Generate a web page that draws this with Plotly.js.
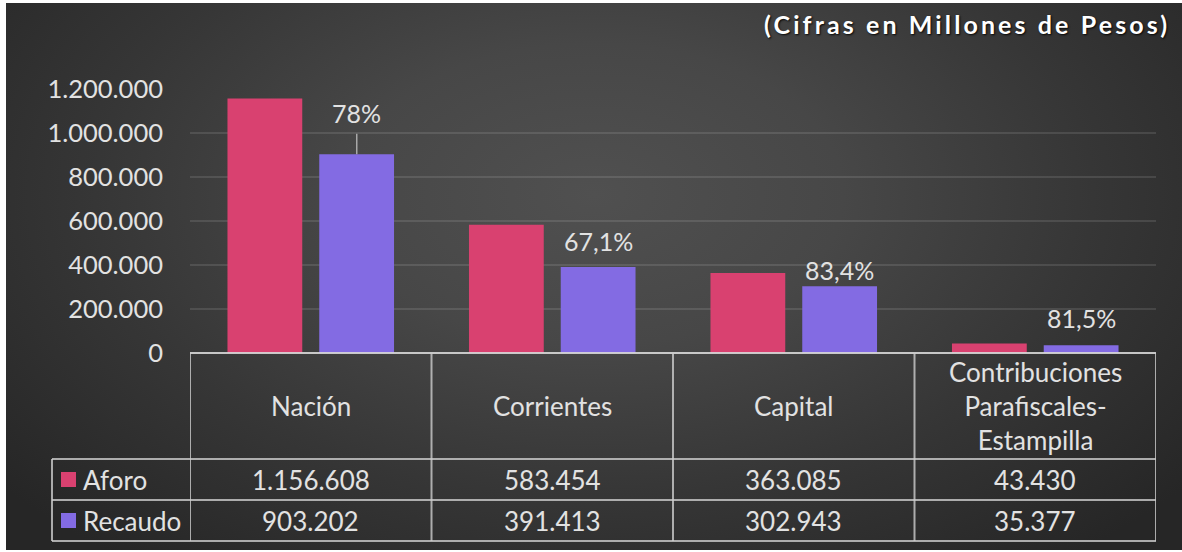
<!DOCTYPE html>
<html><head><meta charset="utf-8">
<script src="https://cdn.plot.ly/plotly-3.0.1.min.js"></script>
<style>
html,body{margin:0;padding:0;background:#fff;}
#wrap{position:relative;width:1182px;height:552px;overflow:hidden;}
#bg{position:absolute;left:6px;top:3px;right:0;bottom:2px;background:radial-gradient(ellipse farthest-corner at 50% 35%, #505050 0%, #474747 30%, #363636 60%, #262626 92%);}
#chart{position:absolute;left:0;top:0;width:1182px;height:552px;}
.annotation[data-index="0"] text{letter-spacing:3.1px;}
</style></head>
<body>
<div id="wrap"><div id="bg"></div><div id="chart"></div></div>
<script>
// ---- data ----
const categories = ['Nación', 'Corrientes', 'Capital', 'Contribuciones<br>Parafiscales-<br>Estampilla'];
const seriesNames = ['Aforo', 'Recaudo'];
const aforo = [1156608, 583454, 363085, 43430];
const recaudo = [903202, 391413, 302943, 35377];
const recaudoPctLabels = ['78%', '67,1%', '83,4%', '81,5%'];
const yTickVals = [0, 200000, 400000, 600000, 800000, 1000000, 1200000];
const subtitle = '(Cifras en Millones de Pesos)';

// ---- styling / layout ----
const colors = ['#D94170', '#836BE3'];
const txtColor = '#E2E2E2';
const lineColor = 'rgba(205,205,205,0.8)';
const FONT = 'Lato, "Open Sans", sans-serif';
const L = 190, R = 26, T = 89, B = 199, W = 1182, H = 552;
const plotW = W - L - R, plotH = H - T - B;
const py = p => (H - B - p) / plotH;      // pixel y -> paper y
const px = p => (p - L) / plotW;          // pixel x -> paper x
const pctShift = [0, 26, 16, 27];
const TBL = 26;

function fmt(n) { return String(n).replace(/\B(?=(\d{3})+(?!\d))/g, '.'); }

const series = [aforo, recaudo];
const traces = series.map((vals, i) => ({
  type: 'bar', name: seriesNames[i], x: categories, y: vals,
  marker: {color: colors[i]}, hoverinfo: 'skip', showlegend: false
}));

const annotations = [];
annotations.push({
  xref: 'paper', yref: 'paper', x: px(967), y: py(24), xanchor: 'center', yanchor: 'middle',
  text: subtitle, showarrow: false,
  font: {family: FONT, size: 25, weight: 700, color: '#FFFFFF', shadow: '1px 1px 2px rgba(0,0,0,0.9)'}
});

// percent labels above Recaudo bars
recaudoPctLabels.forEach((lab, i) => {
  const base = {xref: 'x', yref: 'y', x: categories[i], y: recaudo[i], xshift: 46, text: lab,
    font: {family: FONT, size: 25, color: txtColor}};
  if (i === 0) {
    annotations.push(Object.assign(base, {showarrow: true, arrowhead: 0, arrowwidth: 1.5,
      arrowcolor: '#A8A8A8', ax: 0, ay: -41, startstandoff: 4}));
  } else {
    annotations.push(Object.assign(base, {showarrow: false, yanchor: 'middle', yshift: pctShift[i]}));
  }
});

// table: header row and value rows
const rowHeader = py(406), row1 = py(479.5), row2 = py(520.5);
categories.forEach((c, i) => {
  annotations.push({xref: 'x', yref: 'paper', x: c, y: rowHeader, text: c, showarrow: false,
    yanchor: 'middle', font: {family: FONT, size: TBL, color: txtColor}});
  annotations.push({xref: 'x', yref: 'paper', x: c, y: row1, text: fmt(aforo[i]), showarrow: false,
    yanchor: 'middle', font: {family: FONT, size: TBL, color: txtColor}});
  annotations.push({xref: 'x', yref: 'paper', x: c, y: row2, text: fmt(recaudo[i]), showarrow: false,
    yanchor: 'middle', font: {family: FONT, size: TBL, color: txtColor}});
});
// legend labels in table
[row1, row2].forEach((ry, i) => {
  annotations.push({xref: 'paper', yref: 'paper', x: px(81), y: ry, xanchor: 'left', yanchor: 'middle',
    text: seriesNames[i], showarrow: false, font: {family: FONT, size: TBL, color: txtColor}});
});

const shapes = [];
const lineS = {color: lineColor, width: 2};
// top border (zero line)
shapes.push({type: 'line', xref: 'x', yref: 'paper', x0: -0.5, x1: categories.length - 0.5, y0: 0, y1: 0,
  line: {color: 'rgba(215,215,215,0.9)', width: 2}});
// vertical lines
for (let k = 0; k <= categories.length; k++) {
  shapes.push({type: 'line', xref: 'x', yref: 'paper', x0: k - 0.5, x1: k - 0.5, y0: 0, y1: py(541), line: lineS});
}
// horizontal lines
[459, 500, 541].forEach(p => {
  shapes.push({type: 'line', xref: 'paper', yref: 'paper', x0: px(52), x1: 1, y0: py(p), y1: py(p), line: lineS});
});
shapes.push({type: 'line', xref: 'paper', yref: 'paper', x0: px(52), x1: px(52), y0: py(459), y1: py(541), line: lineS});
// legend swatches
[[472, 487], [513, 528]].forEach((r, i) => {
  shapes.push({type: 'rect', xref: 'paper', yref: 'paper', x0: px(61), x1: px(76), y0: py(r[1]), y1: py(r[0]),
    fillcolor: colors[i], line: {width: 0}});
});

const layout = {
  width: W, height: H,
  margin: {l: L, r: R, t: T, b: B},
  paper_bgcolor: 'rgba(0,0,0,0)', plot_bgcolor: 'rgba(0,0,0,0)',
  barmode: 'group', bargap: 0.24, bargroupgap: 0.185,
  separators: ',.',
  font: {family: FONT, color: txtColor},
  xaxis: {type: 'category', range: [-0.5, categories.length - 0.5], showticklabels: false,
    showgrid: false, zeroline: false, showline: false, fixedrange: true},
  yaxis: {range: [0, 1200000], tickvals: yTickVals, tickformat: ',d', showgrid: true,
    gridcolor: 'rgba(255,255,255,0.11)', gridwidth: 2, zeroline: false, showline: false,
    ticks: '', ticklabelstandoff: 26, tickfont: {family: FONT, size: 25.5, color: txtColor}, fixedrange: true},
  annotations: annotations, shapes: shapes, showlegend: false
};

Plotly.newPlot('chart', traces, layout, {displayModeBar: false, staticPlot: true});
</script>
</body></html>
